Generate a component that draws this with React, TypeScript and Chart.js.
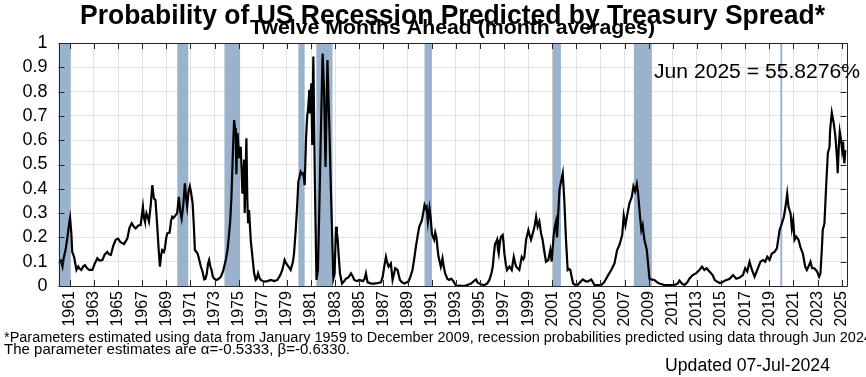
import React, { useEffect, useRef } from "react";
import { Chart, registerables } from "chart.js";

Chart.register(...registerables);

// ---- data (decimal year, probability) ----
const years: number[] = [
  1960.1, 1960.25, 1960.39, 1960.47, 1960.65, 1960.8, 1960.95, 1961.02, 1961.12, 1961.2,
  1961.35, 1961.55, 1961.7, 1961.8, 1961.95, 1962.1, 1962.26, 1962.4, 1962.6, 1962.87,
  1963.05, 1963.28, 1963.45, 1963.7, 1963.9, 1964.1, 1964.25, 1964.4, 1964.6, 1964.8,
  1965.0, 1965.2, 1965.5, 1965.77, 1965.95, 1966.13, 1966.3, 1966.46, 1966.7, 1966.87,
  1967.06, 1967.15, 1967.23, 1967.35, 1967.42, 1967.56, 1967.7, 1967.84, 1967.97, 1968.1,
  1968.25, 1968.38, 1968.47, 1968.58, 1968.66, 1968.8, 1968.88, 1969.0, 1969.08, 1969.27,
  1969.4, 1969.49, 1969.6, 1969.77, 1969.9, 1970.04, 1970.15, 1970.27, 1970.4, 1970.54,
  1970.65, 1970.73, 1970.85, 1970.95, 1971.05, 1971.18, 1971.28, 1971.37, 1971.5, 1971.59,
  1971.72, 1971.86, 1972.0, 1972.14, 1972.25, 1972.36, 1972.45, 1972.55, 1972.65, 1972.75,
  1972.85, 1972.97, 1973.19, 1973.35, 1973.52, 1973.7, 1973.93, 1974.08, 1974.21, 1974.3,
  1974.4, 1974.52, 1974.62, 1974.7, 1974.76, 1974.81, 1974.9, 1975.03, 1975.1, 1975.17,
  1975.31, 1975.45, 1975.5, 1975.64, 1975.72, 1975.78, 1975.86, 1976.0, 1976.14, 1976.28,
  1976.41, 1976.5, 1976.61, 1976.72, 1976.83, 1977.1, 1977.4, 1977.66, 1977.95, 1978.21,
  1978.45, 1978.62, 1978.81, 1978.92, 1979.04, 1979.2, 1979.31, 1979.5, 1979.59, 1979.73,
  1979.85, 1979.95, 1980.05, 1980.14, 1980.25, 1980.36, 1980.47, 1980.58, 1980.68, 1980.75,
  1980.86, 1980.91, 1981.02, 1981.1, 1981.19, 1981.32, 1981.45, 1981.57, 1981.7, 1981.8,
  1981.96, 1982.08, 1982.2, 1982.36, 1982.52, 1982.65, 1982.85, 1982.95, 1983.07, 1983.14,
  1983.21, 1983.3, 1983.4, 1983.57, 1983.75, 1983.9, 1984.1, 1984.31, 1984.45, 1984.59,
  1984.8, 1985.0, 1985.3, 1985.45, 1985.55, 1985.69, 1986.0, 1986.24, 1986.5, 1986.8,
  1986.95, 1987.07, 1987.21, 1987.3, 1987.43, 1987.62, 1987.76, 1987.88, 1987.98, 1988.17,
  1988.37, 1988.55, 1988.72, 1989.08, 1989.25, 1989.41, 1989.55, 1989.69, 1989.85, 1989.97,
  1990.19, 1990.3, 1990.41, 1990.5, 1990.58, 1990.69, 1990.82, 1990.92, 1991.02, 1991.12,
  1991.21, 1991.3, 1991.4, 1991.5, 1991.57, 1991.76, 1991.9, 1992.0, 1992.12, 1992.3,
  1992.45, 1992.62, 1992.8, 1993.03, 1993.3, 1993.72, 1994.0, 1994.27, 1994.5, 1994.68,
  1994.8, 1994.96, 1995.2, 1995.38, 1995.6, 1995.79, 1995.95, 1996.07, 1996.16, 1996.26,
  1996.35, 1996.43, 1996.5, 1996.56, 1996.66, 1996.75, 1996.89, 1996.96, 1997.03, 1997.15,
  1997.25, 1997.45, 1997.64, 1997.81, 1997.9, 1998.0, 1998.1, 1998.27, 1998.47, 1998.6,
  1998.69, 1998.83, 1999.02, 1999.12, 1999.24, 1999.46, 1999.55, 1999.66, 1999.79, 1999.93,
  2000.07, 2000.2, 2000.35, 2000.48, 2000.67, 2000.84, 2000.95, 2001.11, 2001.2, 2001.31,
  2001.4, 2001.5, 2001.6, 2001.73, 2001.87, 2002.0, 2002.14, 2002.28, 2002.4, 2002.5,
  2002.6, 2002.73, 2002.9, 2003.1, 2003.3, 2003.54, 2003.75, 2003.95, 2004.23, 2004.51,
  2004.8, 2005.06, 2005.3, 2005.47, 2005.7, 2005.89, 2006.16, 2006.38, 2006.58, 2006.8,
  2006.93, 2007.07, 2007.21, 2007.4, 2007.6, 2007.73, 2007.87, 2008.01, 2008.12, 2008.28,
  2008.39, 2008.5, 2008.64, 2008.84, 2008.97, 2009.06, 2009.2, 2009.47, 2009.7, 2009.89,
  2010.3, 2010.72, 2011.13, 2011.4, 2011.55, 2011.75, 2011.96, 2012.2, 2012.37, 2012.65,
  2012.92, 2013.2, 2013.42, 2013.61, 2013.8, 2014.03, 2014.3, 2014.47, 2014.6, 2014.89,
  2015.1, 2015.3, 2015.71, 2015.99, 2016.26, 2016.54, 2016.81, 2017.0, 2017.17, 2017.36,
  2017.56, 2017.78, 2018.0, 2018.27, 2018.47, 2018.66, 2018.83, 2019.02, 2019.21, 2019.43,
  2019.63, 2019.85, 2019.99, 2020.21, 2020.34, 2020.48, 2020.59, 2020.76, 2020.87, 2020.98,
  2021.09, 2021.23, 2021.42, 2021.58, 2021.78, 2021.97, 2022.11, 2022.25, 2022.41, 2022.55,
  2022.74, 2022.96, 2023.13, 2023.24, 2023.35, 2023.43, 2023.57, 2023.71, 2023.85, 2023.99,
  2024.04, 2024.18, 2024.34, 2024.48, 2024.62, 2024.67, 2024.76, 2024.84, 2024.95, 2025.03,
  2025.11, 2025.22, 2025.3, 2025.36,
];

const probabilities: number[] = [
  0.10, 0.105, 0.08, 0.11, 0.15, 0.20, 0.26, 0.28, 0.22, 0.14,
  0.12, 0.066, 0.08, 0.072, 0.066, 0.08, 0.086, 0.075, 0.066, 0.066,
  0.09, 0.114, 0.105, 0.107, 0.13, 0.14, 0.13, 0.128, 0.165, 0.19,
  0.195, 0.18, 0.173, 0.196, 0.24, 0.258, 0.245, 0.237, 0.25, 0.25,
  0.326, 0.28, 0.265, 0.30, 0.29, 0.265, 0.33, 0.415, 0.36, 0.354,
  0.244, 0.14, 0.08, 0.13, 0.148, 0.14, 0.155, 0.20, 0.217, 0.22,
  0.27, 0.285, 0.28, 0.292, 0.30, 0.367, 0.31, 0.278, 0.33, 0.422,
  0.36, 0.326, 0.39, 0.41, 0.385, 0.34, 0.25, 0.148, 0.14, 0.134,
  0.11, 0.08, 0.06, 0.027, 0.03, 0.052, 0.09, 0.107, 0.08, 0.066,
  0.04, 0.03, 0.025, 0.03, 0.038, 0.06, 0.107, 0.15, 0.217, 0.27,
  0.367, 0.55, 0.683, 0.65, 0.615, 0.46, 0.63, 0.53, 0.55, 0.573,
  0.38, 0.52, 0.30, 0.608, 0.35, 0.258, 0.313, 0.19, 0.12, 0.052,
  0.025, 0.03, 0.052, 0.035, 0.025, 0.018, 0.02, 0.025, 0.02, 0.025,
  0.045, 0.066, 0.107, 0.095, 0.086, 0.075, 0.066, 0.10, 0.134, 0.23,
  0.33, 0.43, 0.45, 0.47, 0.46, 0.464, 0.415, 0.60, 0.70, 0.724,
  0.807, 0.71, 0.834, 0.58, 0.944, 0.42, 0.025, 0.066, 0.35, 0.60,
  0.957, 0.80, 0.49, 0.93, 0.65, 0.39, 0.03, 0.05, 0.244, 0.22,
  0.19, 0.12, 0.052, 0.01, 0.02, 0.03, 0.035, 0.052, 0.04, 0.025,
  0.02, 0.025, 0.02, 0.03, 0.052, 0.015, 0.01, 0.01, 0.012, 0.015,
  0.04, 0.08, 0.12, 0.10, 0.08, 0.093, 0.025, 0.05, 0.073, 0.066,
  0.025, 0.015, 0.01, 0.018, 0.04, 0.066, 0.11, 0.16, 0.21, 0.244,
  0.27, 0.30, 0.333, 0.32, 0.326, 0.265, 0.32, 0.28, 0.217, 0.20,
  0.19, 0.22, 0.20, 0.15, 0.12, 0.08, 0.114, 0.08, 0.052, 0.03,
  0.025, 0.03, 0.02, 0.0, 0.002, 0.0, 0.005, 0.01, 0.02, 0.027,
  0.015, 0.01, 0.005, 0.004, 0.01, 0.025, 0.05, 0.08, 0.13, 0.175,
  0.18, 0.19, 0.15, 0.134, 0.18, 0.203, 0.21, 0.18, 0.134, 0.09,
  0.066, 0.08, 0.066, 0.12, 0.10, 0.08, 0.075, 0.066, 0.12, 0.11,
  0.12, 0.19, 0.23, 0.21, 0.19, 0.23, 0.25, 0.285, 0.244, 0.265,
  0.217, 0.19, 0.14, 0.10, 0.107, 0.148, 0.10, 0.203, 0.24, 0.265,
  0.20, 0.30, 0.395, 0.43, 0.464, 0.354, 0.19, 0.066, 0.07, 0.066,
  0.04, 0.01, 0.005, 0.005, 0.015, 0.027, 0.02, 0.018, 0.027, 0.004,
  0.004, 0.004, 0.015, 0.03, 0.05, 0.066, 0.093, 0.148, 0.17, 0.21,
  0.29, 0.25, 0.29, 0.34, 0.367, 0.41, 0.39, 0.42, 0.38, 0.285,
  0.23, 0.25, 0.19, 0.148, 0.08, 0.03, 0.027, 0.025, 0.015, 0.01,
  0.004, 0.004, 0.004, 0.01, 0.022, 0.01, 0.004, 0.015, 0.03, 0.045,
  0.052, 0.066, 0.08, 0.066, 0.073, 0.06, 0.045, 0.025, 0.02, 0.012,
  0.015, 0.022, 0.03, 0.045, 0.03, 0.035, 0.045, 0.073, 0.06, 0.10,
  0.066, 0.038, 0.066, 0.10, 0.107, 0.10, 0.12, 0.107, 0.134, 0.14,
  0.155, 0.23, 0.25, 0.285, 0.326, 0.38, 0.326, 0.30, 0.237, 0.27,
  0.19, 0.203, 0.19, 0.16, 0.134, 0.08, 0.066, 0.08, 0.10, 0.073,
  0.073, 0.059, 0.038, 0.052, 0.148, 0.23, 0.258, 0.41, 0.546, 0.573,
  0.642, 0.713, 0.67, 0.615, 0.52, 0.464, 0.573, 0.635, 0.60, 0.56,
  0.594, 0.505, 0.553, 0.558,
];

// NBER recession shading (decimal years)
const recessionStarts: number[] = [1960.06, 1969.91, 1973.82, 1979.95, 1981.44, 1990.41, 2001.03, 2007.77, 2019.91];
const recessionEnds: number[] = [1961.08, 1970.82, 1975.12, 1980.47, 1982.78, 1991.02, 2001.72, 2009.26, 2020.07];

// axis ticks
const xTickYears: number[] = [
  1961, 1963, 1965, 1967, 1969, 1971, 1973, 1975, 1977, 1979, 1981, 1983, 1985, 1987, 1989, 1991, 1993,
  1995, 1997, 1999, 2001, 2003, 2005, 2007, 2009, 2011, 2013, 2015, 2017, 2019, 2021, 2023, 2025,
];
const xTickLabels: string[] = xTickYears.map((y) => String(y));
const yTickValues: number[] = [0, 0.1, 0.2, 0.3, 0.4, 0.5, 0.6, 0.7, 0.8, 0.9, 1];
const yTickLabels: string[] = ["0", "0.1", "0.2", "0.3", "0.4", "0.5", "0.6", "0.7", "0.8", "0.9", "1"];

// texts
const TITLE = "Probability of US Recession Predicted by Treasury Spread*";
const SUBTITLE = "Twelve Months Ahead (month averages)";
const ANNOTATION = "Jun 2025 = 55.8276%";
const FOOT1 =
  "*Parameters estimated using data from January 1959 to December 2009, recession probabilities predicted using data through Jun 2024";
const FOOT2 = "The parameter estimates are \u03b1=-0.5333, \u03b2=-0.6330.";
const UPDATED = "Updated 07-Jul-2024";

const X_MIN = 1960.06;
const X_MAX = 2025.4;
const RECESSION_COLOR = "#9bb2cd";
const FRAME_COLOR = "#262626";
const GRID_COLOR = "#e3e3e3";
const FONT = "'Liberation Sans', Arial, sans-serif";

function drawFitted(
  ctx: CanvasRenderingContext2D,
  text: string,
  x: number,
  y: number,
  font: string,
  width: number,
  align: "left" | "center"
) {
  ctx.save();
  ctx.font = font;
  ctx.fillStyle = "#000";
  ctx.textAlign = "left";
  ctx.textBaseline = "alphabetic";
  const w = ctx.measureText(text).width;
  const s = width / w;
  const left = align === "center" ? x - width / 2 : x;
  ctx.translate(left, y);
  ctx.scale(s, 1);
  ctx.fillText(text, 0, 0);
  ctx.restore();
}

const decorPlugin = {
  id: "decor",
  beforeDatasetsDraw(chart: any) {
    const { ctx, chartArea: a, scales } = chart;
    const xs = scales.x;
    ctx.save();
    ctx.beginPath();
    ctx.rect(a.left, a.top, a.right - a.left, a.bottom - a.top);
    ctx.clip();
    ctx.fillStyle = RECESSION_COLOR;
    for (let i = 0; i < recessionStarts.length; i++) {
      const x0 = xs.getPixelForValue(recessionStarts[i]);
      const x1 = xs.getPixelForValue(recessionEnds[i]);
      ctx.fillRect(x0, a.top, x1 - x0, a.bottom - a.top);
    }
    ctx.restore();
  },
  afterDatasetsDraw(chart: any) {
    const { ctx, chartArea: a, scales } = chart;
    const xs = scales.x;
    const ys = scales.y;
    const L = 6;
    ctx.save();
    ctx.strokeStyle = FRAME_COLOR;
    ctx.lineWidth = 1;
    ctx.beginPath();
    ctx.rect(Math.round(a.left) + 0.5, Math.round(a.top) + 0.5, Math.round(a.right - a.left), Math.round(a.bottom - a.top));
    ctx.stroke();
    ctx.beginPath();
    for (const v of xTickYears) {
      const px = Math.round(xs.getPixelForValue(v)) + 0.5;
      ctx.moveTo(px, a.top);
      ctx.lineTo(px, a.top + L);
      ctx.moveTo(px, a.bottom);
      ctx.lineTo(px, a.bottom - L);
    }
    for (const v of yTickValues) {
      const py = Math.round(ys.getPixelForValue(v)) + 0.5;
      ctx.moveTo(a.left, py);
      ctx.lineTo(a.left + L, py);
      ctx.moveTo(a.right, py);
      ctx.lineTo(a.right - L, py);
    }
    ctx.stroke();
    ctx.restore();
  },
  afterDraw(chart: any) {
    const { ctx, chartArea: a } = chart;
    const cx = (a.left + a.right) / 2;
    drawFitted(ctx, TITLE, cx, 24, `bold 28px ${FONT}`, 745, "center");
    drawFitted(ctx, SUBTITLE, cx, 34, `bold 21px ${FONT}`, 405, "center");
    drawFitted(ctx, ANNOTATION, 654, 78, `20px ${FONT}`, 206, "left");
    drawFitted(ctx, FOOT1, 4, 342, `14px ${FONT}`, 868, "left");
    drawFitted(ctx, FOOT2, 4, 354, `14px ${FONT}`, 346, "left");
    drawFitted(ctx, UPDATED, 665, 371, `18px ${FONT}`, 165, "left");
  },
};

export default function App() {
  const canvasRef = useRef<HTMLCanvasElement | null>(null);

  useEffect(() => {
    document.body.style.margin = "0";
    const canvas = canvasRef.current;
    if (!canvas) return;
    const points = years.map((y, i) => ({ x: y, y: probabilities[i] }));
    const chart = new Chart(canvas, {
      type: "line",
      data: {
        datasets: [
          {
            data: points,
            borderColor: "#000",
            borderWidth: 2.2,
            pointRadius: 0,
            tension: 0,
            fill: false,
          },
        ],
      },
      options: {
        animation: false,
        responsive: false,
        devicePixelRatio: 1,
        layout: { padding: { left: 0, right: 18, top: 43, bottom: 0 } },
        plugins: {
          legend: { display: false },
          title: { display: false },
          tooltip: { enabled: false },
        },
        scales: {
          x: {
            type: "linear",
            min: X_MIN,
            max: X_MAX,
            afterBuildTicks: (axis: any) => {
              axis.ticks = xTickYears.map((v) => ({ value: v }));
            },
            afterFit: (axis: any) => {
              axis.height = 91;
            },
            ticks: {
              autoSkip: false,
              minRotation: 90,
              maxRotation: 90,
              padding: 5,
              color: "#000",
              font: { family: FONT, size: 16 },
              callback: (_v: any, i: number) => xTickLabels[i],
            },
            grid: { color: GRID_COLOR, drawTicks: false, lineWidth: 1 },
            border: { display: false },
          },
          y: {
            type: "linear",
            min: 0,
            max: 1,
            afterBuildTicks: (axis: any) => {
              axis.ticks = yTickValues.map((v) => ({ value: v }));
            },
            afterFit: (axis: any) => {
              axis.width = 58.5;
            },
            ticks: {
              autoSkip: false,
              padding: 11,
              color: "#000",
              font: { family: FONT, size: 18 },
              callback: (_v: any, i: number) => yTickLabels[i],
            },
            grid: { color: GRID_COLOR, drawTicks: false, lineWidth: 1 },
            border: { display: false },
          },
        },
      },
      plugins: [decorPlugin],
    } as any);
    return () => chart.destroy();
  }, []);

  return (
    <div style={{ width: 866, height: 377, position: "relative", background: "#fff" }}>
      <canvas ref={canvasRef} width={866} height={377} style={{ width: 866, height: 377, display: "block" }} />
    </div>
  );
}
